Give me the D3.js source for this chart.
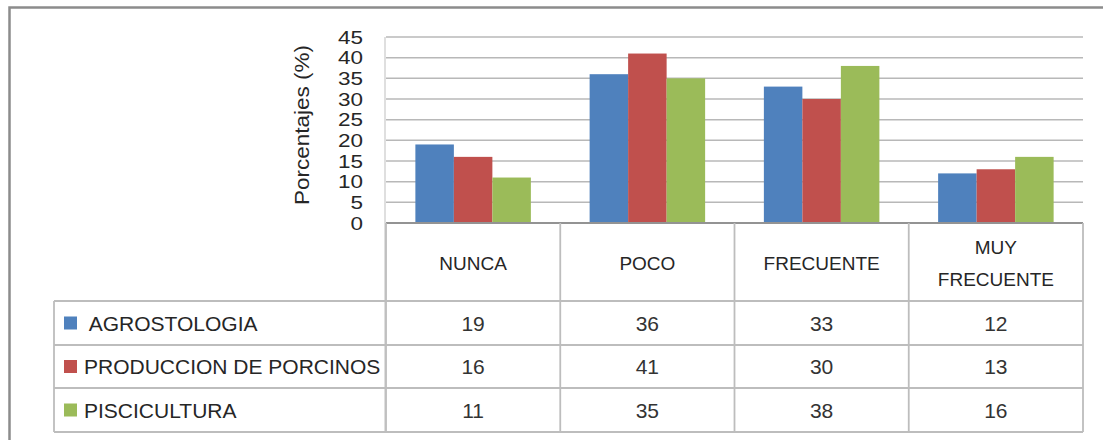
<!DOCTYPE html>
<html>
<head>
<meta charset="utf-8">
<script src="https://cdn.jsdelivr.net/npm/d3@7"></script>
<style>
  html, body { margin: 0; padding: 0; background: #fff; }
  svg { display: block; font-family: "Liberation Sans", Arial, sans-serif; }
  text { white-space: pre; }
</style>
</head>
<body>
<svg id="chart" width="1103" height="440"></svg>
<script>
// ---- data ----
const categories = ["NUNCA", "POCO", "FRECUENTE", "MUY FRECUENTE"];
const seriesNames = [" AGROSTOLOGIA", "PRODUCCION DE PORCINOS", "PISCICULTURA"];
const agrostologia = [19, 36, 33, 12];
const porcinos = [16, 41, 30, 13];
const piscicultura = [11, 35, 38, 16];
const yTicks = [0, 5, 10, 15, 20, 25, 30, 35, 40, 45];
const yTitle = "Porcentajes (%)";

const seriesValues = [agrostologia, porcinos, piscicultura];
const colors = ["#4f81bd", "#c0504d", "#9bbb59"];

// ---- layout ----
const svg = d3.select("#chart");
const plotLeft = 386, plotRight = 1083, plotTop = 37, plotBottom = 223;
const headerBottom = 301, tableLeft = 54;
const rowEdges = [301, 345, 388, 432];

const x = d3.scaleBand().domain(categories).range([plotLeft, plotRight]).padding(0);
const xs = d3.scaleBand().domain(d3.range(seriesNames.length))
  .range([0, x.bandwidth()]).paddingInner(0).paddingOuter(0.763);
const y = d3.scaleLinear().domain([0, 45]).range([plotBottom, plotTop]);

// outer frame
svg.append("rect").attr("x", 9.5).attr("y", 7.5).attr("width", 1200).attr("height", 600)
  .attr("fill", "none").attr("stroke", "#8c8c8c").attr("stroke-width", 2.5);

// gridlines
const grid = svg.append("g");
grid.selectAll("line").data(yTicks.filter(d => d > 0)).join("line")
  .attr("x1", plotLeft).attr("x2", plotRight)
  .attr("y1", d => y(d)).attr("y2", d => y(d))
  .attr("stroke", "#b8b8b8").attr("stroke-width", 1.5);

// y axis line
svg.append("line").attr("x1", plotLeft - 1).attr("x2", plotLeft - 1)
  .attr("y1", plotTop).attr("y2", rowEdges[rowEdges.length - 1])
  .attr("stroke", "#d4d4d4").attr("stroke-width", 1.5);

// y tick labels
const yAxis = d3.axisLeft(y).tickValues(yTicks).tickSize(0).tickPadding(0);
const yg = svg.append("g").attr("transform", `translate(${plotLeft - 23},0)`).call(yAxis);
yg.select(".domain").remove();
yg.selectAll("text").attr("font-size", 17.5).attr("fill", "#262626")
  .attr("font-family", "'Liberation Sans', Arial, sans-serif")
  .attr("textLength", d => String(d).length * 12.5)
  .attr("lengthAdjust", "spacingAndGlyphs")
  .attr("dy", "0.36em");

// y title
svg.append("text")
  .attr("transform", `translate(309,125) rotate(-90)`)
  .attr("text-anchor", "middle")
  .attr("font-size", 20).attr("fill", "#262626")
  .attr("textLength", 160).attr("lengthAdjust", "spacingAndGlyphs")
  .text(yTitle);

// bars
const groups = svg.append("g").selectAll("g").data(categories).join("g")
  .attr("transform", d => `translate(${x(d)},0)`);
groups.selectAll("rect").data((c, ci) => seriesValues.map((vals, si) => ({ si, v: vals[ci] })))
  .join("rect")
  .attr("x", d => xs(d.si)).attr("width", xs.bandwidth())
  .attr("y", d => y(d.v)).attr("height", d => y(0) - y(d.v))
  .attr("fill", d => colors[d.si]);

// baseline
svg.append("line").attr("x1", plotLeft).attr("x2", plotRight)
  .attr("y1", plotBottom).attr("y2", plotBottom)
  .attr("stroke", "#939393").attr("stroke-width", 2);

// ---- data table ----
const tableStroke = "#bdbdbd";
const tbl = svg.append("g");
const colEdges = categories.map(c => x(c)).concat([plotRight]);
tbl.selectAll("line.col").data(colEdges).join("line").attr("class", "col")
  .attr("x1", d => d).attr("x2", d => d)
  .attr("y1", plotBottom).attr("y2", rowEdges[rowEdges.length - 1])
  .attr("stroke", tableStroke).attr("stroke-width", 1.8);
tbl.append("line").attr("x1", tableLeft).attr("x2", tableLeft)
  .attr("y1", rowEdges[0]).attr("y2", rowEdges[rowEdges.length - 1])
  .attr("stroke", tableStroke).attr("stroke-width", 1.8);
tbl.selectAll("line.row").data(rowEdges).join("line").attr("class", "row")
  .attr("x1", tableLeft).attr("x2", plotRight)
  .attr("y1", d => d).attr("y2", d => d)
  .attr("stroke", tableStroke).attr("stroke-width", 1.8);

// category header labels
const hdr = tbl.selectAll("text.hdr").data(categories).join("text").attr("class", "hdr")
  .attr("x", d => x(d) + x.bandwidth() / 2)
  .attr("text-anchor", "middle").attr("font-size", 19).attr("fill", "#262626");
hdr.each(function (d) {
  const words = d.split(" ");
  const lines = words.length > 1 ? [words[0], words.slice(1).join(" ")] : [d];
  const cy = (plotBottom + headerBottom) / 2 + 1;
  const lh = 32;
  const sel = d3.select(this);
  lines.forEach((ln, i) => {
    sel.append("tspan").attr("x", x(d) + x.bandwidth() / 2)
      .attr("y", cy + (i - (lines.length - 1) / 2) * lh)
      .attr("dy", "0.36em").text(ln);
  });
});

// rows: legend key + name + values
seriesNames.forEach((name, si) => {
  const cy = (rowEdges[si] + rowEdges[si + 1]) / 2;
  tbl.append("rect").attr("x", 64).attr("y", cy - 6.5).attr("width", 13).attr("height", 13)
    .attr("fill", colors[si]);
  tbl.append("text").attr("x", 84).attr("y", cy).attr("dy", "0.36em")
    .attr("font-size", 21).attr("fill", "#262626").text(name);
  tbl.selectAll(null).data(seriesValues[si]).join("text")
    .attr("x", (d, ci) => x(categories[ci]) + x.bandwidth() / 2)
    .attr("y", cy).attr("dy", "0.36em")
    .attr("text-anchor", "middle").attr("font-size", 21).attr("fill", "#333")
    .text(d => d);
});
</script>
</body>
</html>
